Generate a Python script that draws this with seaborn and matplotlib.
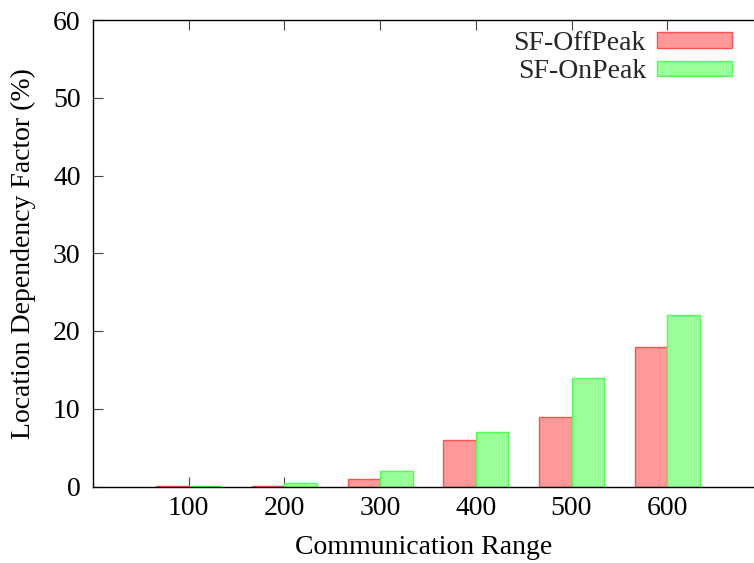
import matplotlib
matplotlib.use("Agg")
import matplotlib.pyplot as plt
import seaborn as sns
import pandas as pd

ranges = [100, 200, 300, 400, 500, 600]
offpeak = [0.05, 0.05, 1, 6, 9, 18]
onpeak = [0.05, 0.5, 2, 7, 14, 22]
series_names = ["SF-OffPeak", "SF-OnPeak"]
yticks = [0, 10, 20, 30, 40, 50, 60]

sns.set_theme(style="white")
plt.rcParams["font.family"] = ["Liberation Serif", "DejaVu Serif"]
plt.rcParams["mathtext.fontset"] = "stix"

df = pd.DataFrame({
    "range": ranges * 2,
    "value": offpeak + onpeak,
    "series": [series_names[0]] * len(ranges) + [series_names[1]] * len(ranges),
})

fig = plt.figure(figsize=(7.54, 5.63), dpi=100)
W, H = 754, 563
left, right, top, bottom = 93, 754, 20, 486.5
ax = fig.add_axes([left / W, 1 - bottom / H, (right - left) / W, (bottom - top) / H])

palette = {series_names[0]: "#ff9999", series_names[1]: "#99ff99"}
edges = {series_names[0]: "#ff5050", series_names[1]: "#50ff50"}

sns.barplot(data=df, x="range", y="value", hue="series", native_scale=True,
            palette=palette, width=0.68, gap=0, saturation=1, ax=ax,
            linewidth=1.0, legend=True)

for cont, name in zip(ax.containers, series_names):
    for patch in cont:
        patch.set_edgecolor(edges[name])
        patch.set_linewidth(1.0)

ax.set_xlim(0, (right - left) / 95.7 * 100)
ax.set_ylim(0, 60)
ax.set_xticks(ranges)
ax.set_xticklabels([str(r) for r in ranges])
ax.set_yticks(yticks)

for s in ["left", "bottom", "top"]:
    ax.spines[s].set_visible(True)
    ax.spines[s].set_color("black")
    ax.spines[s].set_linewidth(1.0)
ax.spines["right"].set_visible(False)

ax.tick_params(axis="x", direction="in", length=7, width=0.8, color="#444444",
               top=True, bottom=True, labelsize=20, pad=7, labelcolor="black")
ax.tick_params(axis="y", direction="in", length=7, width=0.8, color="#444444",
               left=True, right=False, labelsize=20, pad=9, labelcolor="black")

ax.set_xlabel("Communication Range", fontsize=20, labelpad=10, color="black")
ax.set_ylabel("Location Dependency Factor (%)", fontsize=20, labelpad=12, color="black")

handles, labels = ax.get_legend_handles_labels()
if ax.get_legend() is not None:
    ax.get_legend().remove()
for h, name in zip(handles, series_names):
    h.set_edgecolor(edges[name])
    h.set_linewidth(1.0)
leg = ax.legend(handles, labels, loc="upper right", bbox_to_anchor=(732 / W, 1 - 31 / H),
                bbox_transform=fig.transFigure, frameon=False, markerfirst=False,
                fontsize=20, handlelength=2.7, handleheight=0.5, handletextpad=0.4,
                labelspacing=0.12, borderpad=0, borderaxespad=0)

fig.savefig("out.png", dpi=100)
